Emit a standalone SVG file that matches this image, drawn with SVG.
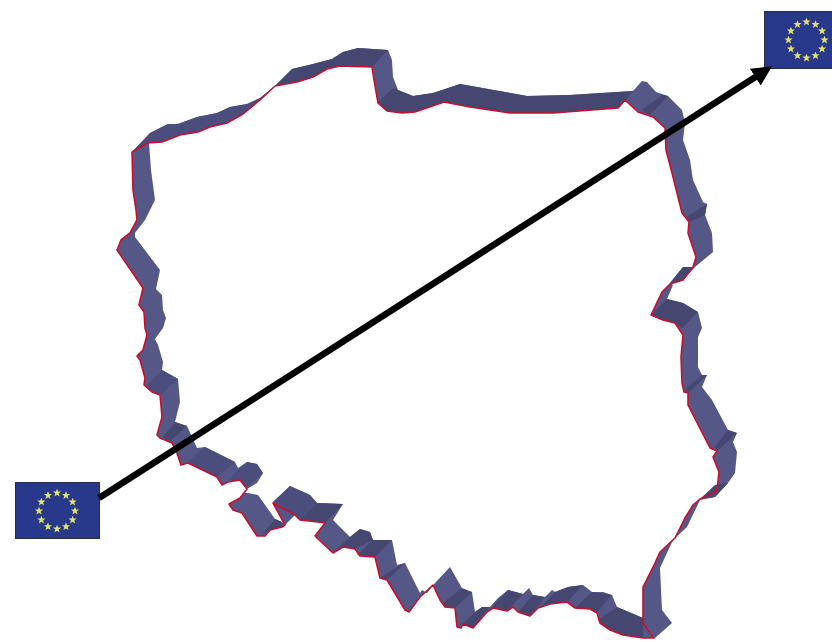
<svg xmlns="http://www.w3.org/2000/svg" xmlns:xlink="http://www.w3.org/1999/xlink" width="832" height="642" viewBox="0 0 832 642">
<style>
.ribbon{fill:#545887;fill-rule:evenodd}
.dark{fill:#45476f}
.mid{fill:#4b4d7c}
.border{fill:none;stroke:#c8102e;stroke-width:1.6;stroke-linejoin:round}
.flag{fill:#28388a;stroke:#2b2b3b;stroke-width:1}
.star{fill:#dfe36c}
.arrow{fill:none;stroke:#000;stroke-width:6.6;marker-end:url(#head)}
</style>
<defs>
<filter id="soft" x="-5%" y="-5%" width="110%" height="110%"><feGaussianBlur stdDeviation="0.45"/></filter>
<marker id="head" markerUnits="userSpaceOnUse" markerWidth="24" markerHeight="24" refX="2" refY="12" orient="auto" viewBox="0 0 24 24"><polygon points="0,2 20,12 0,22" fill="#000"/></marker>
<polygon id="s" class="star" points="0,-4.2 1.1,-1.4 4.1,-1.4 1.7,0.5 2.6,3.5 0,1.8 -2.6,3.5 -1.7,0.5 -4.1,-1.4 -1.1,-1.4"/>
<g id="ring">
<use href="#s" x="0" y="-18"/><use href="#s" x="9" y="-15.6"/><use href="#s" x="15.6" y="-9"/><use href="#s" x="18" y="0"/><use href="#s" x="15.6" y="9"/><use href="#s" x="9" y="15.6"/><use href="#s" x="0" y="18"/><use href="#s" x="-9" y="15.6"/><use href="#s" x="-15.6" y="9"/><use href="#s" x="-18" y="0"/><use href="#s" x="-15.6" y="-9"/><use href="#s" x="-9" y="-15.6"/>
</g>
</defs>
<rect width="832" height="642" fill="#fff"/>
<g id="outline" filter="url(#soft)">
<path class="ribbon" d="M132,152 150,133 168,124 178,124 197,117 217,113 230,107 247,104 260,98 275,86 292,69 313,64 332,59 343,52 358,48 388,50 392,60 393,77 398,90 413,96 433,93 460,84 527,96 570,95 633,91 642,81 647,82 656,92 668,96 682,110 685,123 683,140 690,160 693,180 703,202 707,204 705,215 712,233 713,252 695,267 683,267 670,283 673,285 667,299 683,303 698,312 702,328 698,337 698,367 702,375 707,375 702,387 712,400 728,430 737,433 733,442 737,452 735,473 728,483 715,497 700,500 687,527 673,540 660,568 662,610 672,623 655,638 643,623 643,618 617,607 612,595 603,592 592,592 583,585 568,587 555,592 552,590 545,597 533,595 529,588 523,594 508,590 498,598 490,607 482,607 475,612 472,592 463,590 450,567 435,583 427,593 422,590 420,593 405,563 397,565 392,540 373,540 370,532 360,529 350,537 333,520 343,504 317,503 310,495 290,486 273,502 295,515 285,525 282,522 275,519 258,495 248,493 245,493 247,489 257,483 263,473 257,464 247,462 238,468 235,462 205,447 197,448 187,426 175,422 180,402 178,379 162,370 163,362 158,345 155,339 163,328 166,318 163,310 162,295 156,289 160,270 135,237 135,233 145,220 150,210 155,200 151,170 149,143 Z M132,152 148,143 162,142 180,135 198,132 210,127 227,123 243,114 260,100 275,86 297,82 313,77 327,69 340,66 372,67 374,80 378,103 387,111 402,113 415,112 444,102 470,107 510,113 553,113 618,108 625,100 638,112 653,117 665,128 666,150 672,173 682,213 689,222 688,233 696,257 693,267 683,280 670,284 662,292 651,315 663,320 675,323 683,335 681,357 682,383 684,392 688,393 688,405 710,448 717,451 713,457 719,472 717,490 713,493 700,499 693,505 685,518 675,538 660,552 655,563 643,587 643,623 654,638 643,638 623,635 610,630 600,623 597,613 590,609 575,608 567,602 550,604 538,608 530,616 518,612 513,607 507,611 493,608 487,612 473,628 463,624 461,628 457,627 455,608 445,607 440,600 433,585 420,597 409,612 405,610 387,580 380,578 375,557 360,556 355,549 343,547 333,553 315,536 325,523 318,522 300,520 295,515 273,503 285,525 282,527 270,530 265,536 257,536 242,513 233,510 229,504 240,498 247,489 240,480 228,482 222,485 217,477 188,463 181,465 177,453 172,443 160,438 157,435 162,417 160,395 152,392 144,385 145,378 140,360 137,356 143,350 147,335 145,328 144,312 139,305 143,288 117,250 121,240 130,233 137,220 136,210 133,190 Z"/>
<polygon class="mid" points="132,152 150,133 168,124 178,124 197,117 217,113 230,107 247,104 260,98 275,86 260,100 243,114 227,123 210,127 198,132 180,135 162,142 148,143"/>
<polygon class="dark" points="275,86 292,69 313,64 332,59 343,52 358,48 388,50 372,67 340,66 327,69 313,77 297,82"/>
<polygon class="dark" points="378,102 393,88 398,90 413,96 433,93 460,84 527,96 570,95 633,91 620,107 618,108 553,113 510,113 470,107 444,102 415,112 402,113 387,111"/>
<polygon class="dark" points="642,110 662,95 668,96 650,115"/>
<polygon class="dark" points="687,217 707,204 705,215 689,222"/>
<polygon class="dark" points="670,283 683,267 695,267 692,270 683,280"/>
<polygon class="dark" points="651,315 667,299 683,303 698,312 682,328 675,323 663,320"/>
<polygon class="dark" points="685,390 702,375 707,375 688,393"/>
<polygon class="dark" points="715,447 728,430 737,433 717,451"/>
<polygon class="dark" points="700,499 715,485 728,483 715,497"/>
<polygon class="mid" points="147,385 162,370 178,379 160,395 152,392"/>
<polygon class="dark" points="169,442 187,426 175,422 163,437"/>
<polygon class="mid" points="187,462 205,447 235,462 217,477 188,463"/>
<polygon class="mid" points="228,480 247,462 257,464 263,473 247,487 240,480"/>
<polygon class="dark" points="262,535 275,519 282,522 282,527 270,530"/>
<polygon class="mid" points="273,502 290,486 310,495 317,503 300,520 295,515"/>
<polygon class="dark" points="300,520 317,503 343,504 325,523 318,522"/>
<polygon class="dark" points="333,553 350,537 360,529 370,532 373,540 355,549 343,547"/>
<polygon class="dark" points="357,555 373,540 392,540 375,557"/>
<polygon class="dark" points="380,578 400,565 405,563 387,580"/>
<polygon class="dark" points="443,603 462,588 472,592 455,608 445,607"/>
<polygon class="dark" points="463,624 475,612 482,607 490,607 473,628"/>
<polygon class="dark" points="492,607 508,590 523,594 507,611"/>
<polygon class="dark" points="518,612 533,595 545,597 530,616"/>
<polygon class="dark" points="540,608 555,592 568,587 583,585 567,602 550,604"/>
<polygon class="dark" points="575,608 592,592 612,595 597,612 590,609"/>
<polygon class="dark" points="598,620 617,607 643,618 643,637 623,635 610,630"/>
<path class="border" d="M132,152 148,143 162,142 180,135 198,132 210,127 227,123 243,114 260,100 275,86 297,82 313,77 327,69 340,66 372,67 374,80 378,103 387,111 402,113 415,112 444,102 470,107 510,113 553,113 618,108 625,100 638,112 653,117 665,128 666,150 672,173 682,213 689,222 688,233 696,257 693,267 683,280 670,284 662,292 651,315 663,320 675,323 683,335 681,357 682,383 684,392 688,393 688,405 710,448 717,451 713,457 719,472 717,490 713,493 700,499 693,505 685,518 675,538 660,552 655,563 643,587 643,623 654,638 643,638 623,635 610,630 600,623 597,613 590,609 575,608 567,602 550,604 538,608 530,616 518,612 513,607 507,611 493,608 487,612 473,628 463,624 461,628 457,627 455,608 445,607 440,600 433,585 420,597 409,612 405,610 387,580 380,578 375,557 360,556 355,549 343,547 333,553 315,536 325,523 318,522 300,520 295,515 273,503 285,525 282,527 270,530 265,536 257,536 242,513 233,510 229,504 240,498 247,489 240,480 228,482 222,485 217,477 188,463 181,465 177,453 172,443 160,438 157,435 162,417 160,395 152,392 144,385 145,378 140,360 137,356 143,350 147,335 145,328 144,312 139,305 143,288 117,250 121,240 130,233 137,220 136,210 133,190 Z"/>
</g>
<g id="flag-left">
<rect class="flag" x="15.5" y="482.5" width="84" height="56"/>
<use href="#ring" x="57" y="511"/>
</g>
<g id="flag-right">
<rect class="flag" x="764.5" y="11.5" width="68" height="57"/>
<use href="#ring" x="806.5" y="40"/>
</g>
<g id="connectors">
<path class="arrow" d="M99,498 L757,76"/>
</g>
</svg>
